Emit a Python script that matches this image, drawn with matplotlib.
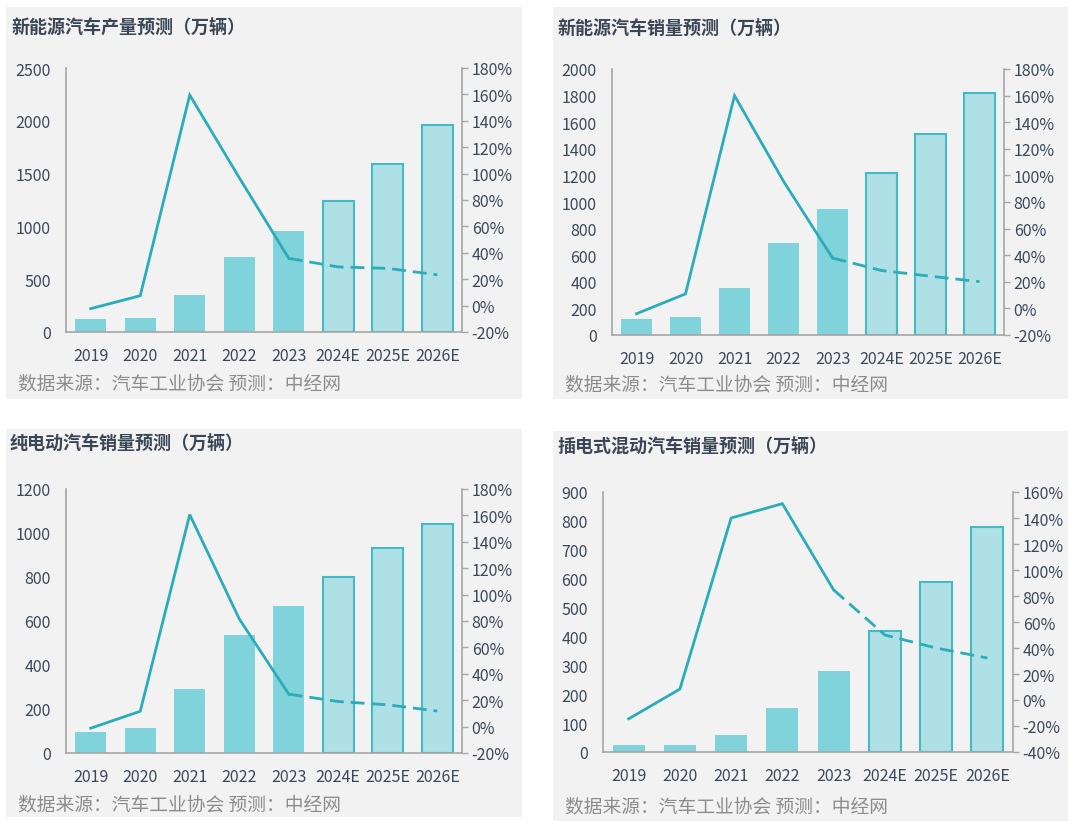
import matplotlib
matplotlib.use("Agg")
import matplotlib.pyplot as plt
from matplotlib.patches import Rectangle
from matplotlib.ticker import FuncFormatter, MultipleLocator

plt.rcParams['font.family'] = ['Noto Sans CJK SC', 'DejaVu Sans']

categories = ["2019", "2020", "2021", "2022", "2023", "2024E", "2025E", "2026E"]
n_actual = 5  # first five are actual, rest forecast

titles = ["新能源汽车产量预测（万辆）", "新能源汽车销量预测（万辆）",
          "纯电动汽车销量预测（万辆）", "插电式混动汽车销量预测（万辆）"]
source_text = "数据来源：汽车工业协会 预测：中经网"

nev_prod = [124.2, 136.6, 354.5, 705.8, 958.7, 1240, 1590, 1960]
nev_prod_growth = [-2.3, 7.5, 159.5, 96.9, 35.8, 29.3, 28.2, 23.3]

nev_sales = [120.6, 136.7, 352.1, 688.7, 949.5, 1220, 1515, 1820]
nev_sales_growth = [-4.0, 10.9, 160.0, 95.6, 37.9, 28.5, 24.2, 20.1]

bev_sales = [97.2, 111.5, 291.6, 536.5, 668.5, 800, 930, 1040]
bev_sales_growth = [-1.2, 11.6, 160.6, 81.6, 24.6, 19.0, 16.5, 11.8]

phev_sales = [23.2, 25.1, 60.3, 151.8, 280.4, 420, 588, 778]
phev_sales_growth = [-14.5, 8.4, 140.0, 151.0, 84.7, 50.0, 40.0, 32.3]

W, H = 1080, 828
fig = plt.figure(figsize=(W / 100, H / 100), dpi=100)
fig.patch.set_facecolor("white")

BG = "#F2F2F2"
BAR_ACT = "#80D2DB"
BAR_EST = "#AFE0E5"
EDGE_EST = "#43BAC6"
LINE = "#2AADB9"
SPINE = "#A6A6A6"
TXT = "#3A4858"
SRC = "#8C8C8C"

panels = [
    dict(bg=(6, 8, 522, 400), ax=(66, 69, 462, 333), title=(12, 27), src=(18, 384),
         vals=nev_prod, gr=nev_prod_growth, ylim=(0, 2500), ystep=500, y2=(-20, 180)),
    dict(bg=(553, 8, 1068, 400), ax=(612, 70, 1004, 336), title=(558, 28), src=(565, 385),
         vals=nev_sales, gr=nev_sales_growth, ylim=(0, 2000), ystep=200, y2=(-20, 180)),
    dict(bg=(6, 430, 522, 818), ax=(66, 490, 462, 754), title=(10, 443), src=(18, 805),
         vals=bev_sales, gr=bev_sales_growth, ylim=(0, 1200), ystep=200, y2=(-20, 180)),
    dict(bg=(553, 432, 1068, 822), ax=(603, 493, 1013, 753), title=(558, 446), src=(565, 807),
         vals=phev_sales, gr=phev_sales_growth, ylim=(0, 900), ystep=100, y2=(-40, 160)),
]

for p, title in zip(panels, titles):
    x0, y0, x1, y1 = p["bg"]
    fig.patches.append(Rectangle((x0 / W, 1 - y1 / H), (x1 - x0) / W, (y1 - y0) / H,
                                 transform=fig.transFigure, facecolor=BG, edgecolor="none",
                                 zorder=-5))
    ax0, ay0, ax1, ay1 = p["ax"]
    ax = fig.add_axes([ax0 / W, 1 - ay1 / H, (ax1 - ax0) / W, (ay1 - ay0) / H])
    ax.set_facecolor("none")
    xs = list(range(len(categories)))
    vals = p["vals"]
    ax.bar(xs[:n_actual], vals[:n_actual], width=0.62, color=BAR_ACT, edgecolor="none", zorder=2)
    ax.bar(xs[n_actual:], vals[n_actual:], width=0.62, color=BAR_EST, edgecolor=EDGE_EST,
           linewidth=1.5, zorder=2)
    ax.set_xlim(-0.5, len(categories) - 0.5)
    ax.set_ylim(*p["ylim"])
    ax.yaxis.set_major_locator(MultipleLocator(p["ystep"]))
    ax.set_xticks(xs)
    ax.set_xticklabels(categories)
    ax.tick_params(axis="x", length=0, pad=11, labelsize=11.5, labelcolor=TXT)
    ax.tick_params(axis="y", length=0, pad=11, labelsize=11.5, labelcolor=TXT)
    for s in ["top", "right"]:
        ax.spines[s].set_visible(False)
    for s in ["left", "bottom"]:
        ax.spines[s].set_color(SPINE)
        ax.spines[s].set_linewidth(1.2)

    ax2 = ax.twinx()
    ax2.set_ylim(*p["y2"])
    ax2.yaxis.set_major_locator(MultipleLocator(20))
    ax2.yaxis.set_major_formatter(FuncFormatter(lambda v, pos: f"{v:.0f}%"))
    ax2.tick_params(axis="y", length=4, width=1, color=SPINE, pad=3, labelsize=11.5,
                    labelcolor=TXT, direction="out")
    for s in ["top", "left", "bottom"]:
        ax2.spines[s].set_visible(False)
    ax2.spines["right"].set_color(SPINE)
    ax2.spines["right"].set_linewidth(1.2)
    gr = p["gr"]
    ax2.plot(xs[:n_actual], gr[:n_actual], color=LINE, linewidth=2, solid_joinstyle="miter",
             zorder=3)
    ax2.plot(xs[n_actual - 1:], gr[n_actual - 1:], color=LINE, linewidth=2,
             linestyle=(0, (5, 2.5)), zorder=3)

    tx, ty = p["title"]
    fig.text(tx / W, 1 - ty / H, title, fontsize=13, fontweight="bold", color="#3A4656",
             ha="left", va="center")
    sx, sy = p["src"]
    fig.text(sx / W, 1 - sy / H, source_text, fontsize=13.5, color=SRC, ha="left", va="center")

fig.savefig("out.png", dpi=100, facecolor="white")
